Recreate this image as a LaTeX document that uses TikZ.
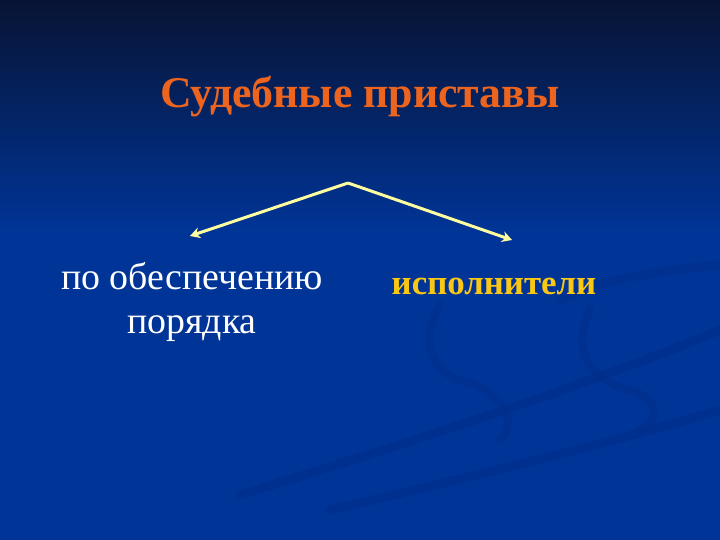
\documentclass[tikz,border=0pt]{standalone}
\usepackage{fontspec}
\setmainfont{Liberation Serif}
\usetikzlibrary{arrows.meta}

\begin{document}
\begin{tikzpicture}[x=1bp,y=-1bp]
    \definecolor{slide}{RGB}{0,52,150};
    \definecolor{night}{RGB}{8,20,52};
    \definecolor{swirl}{RGB}{0,38,120};
    \definecolor{titlecol}{RGB}{236,100,30};
    \definecolor{gold}{RGB}{250,200,20};
    \definecolor{pale}{RGB}{255,255,160};
    \useasboundingbox (0,0) rectangle (720,540);

    % background
    \fill[slide] (0,0) rectangle (720,540);
    \shade[top color=night,bottom color=slide] (0,0) rectangle (720,230);
    \draw[swirl,line width=9pt,line cap=round,opacity=0.22] (240,495) .. controls (450,430) and (600,380) .. (720,330);
    \draw[swirl,line width=9pt,line cap=round,opacity=0.22] (330,510) .. controls (500,470) and (620,440) .. (720,410);
    \draw[swirl,line width=9pt,line cap=round,opacity=0.18] (560,300) .. controls (600,280) and (660,270) .. (720,265);
    \draw[swirl,line width=8pt,line cap=round,opacity=0.18] (440,305) .. controls (420,340) and (430,370) .. (460,380) .. controls (500,390) and (520,420) .. (500,440);
    \draw[swirl,line width=8pt,line cap=round,opacity=0.18] (590,310) .. controls (570,350) and (590,380) .. (630,390) .. controls (660,400) and (660,420) .. (640,430);

    % texts
    \node (title) [text=titlecol,font=\fontsize{44}{48}\selectfont\bfseries] at (360,97) {Судебные приставы};
    \node (order) [text=white,align=center,font=\fontsize{38}{44}\selectfont] at (192,302) {по обеспечению\\порядка};
    \node (exec) [text=gold,font=\fontsize{35}{40}\selectfont\bfseries] at (494,286) {исполнители};

    % arrows
    \coordinate (apex) at (348,183);
    \coordinate (lefttip) at (190,236);
    \coordinate (righttip) at (512,240);
    \draw[-{Stealth[length=10pt,width=11pt]},pale,line width=3pt] (apex) -- (lefttip);
    \draw[-{Stealth[length=10pt,width=11pt]},pale,line width=3pt] (apex) -- (righttip);
\end{tikzpicture}
\end{document}
